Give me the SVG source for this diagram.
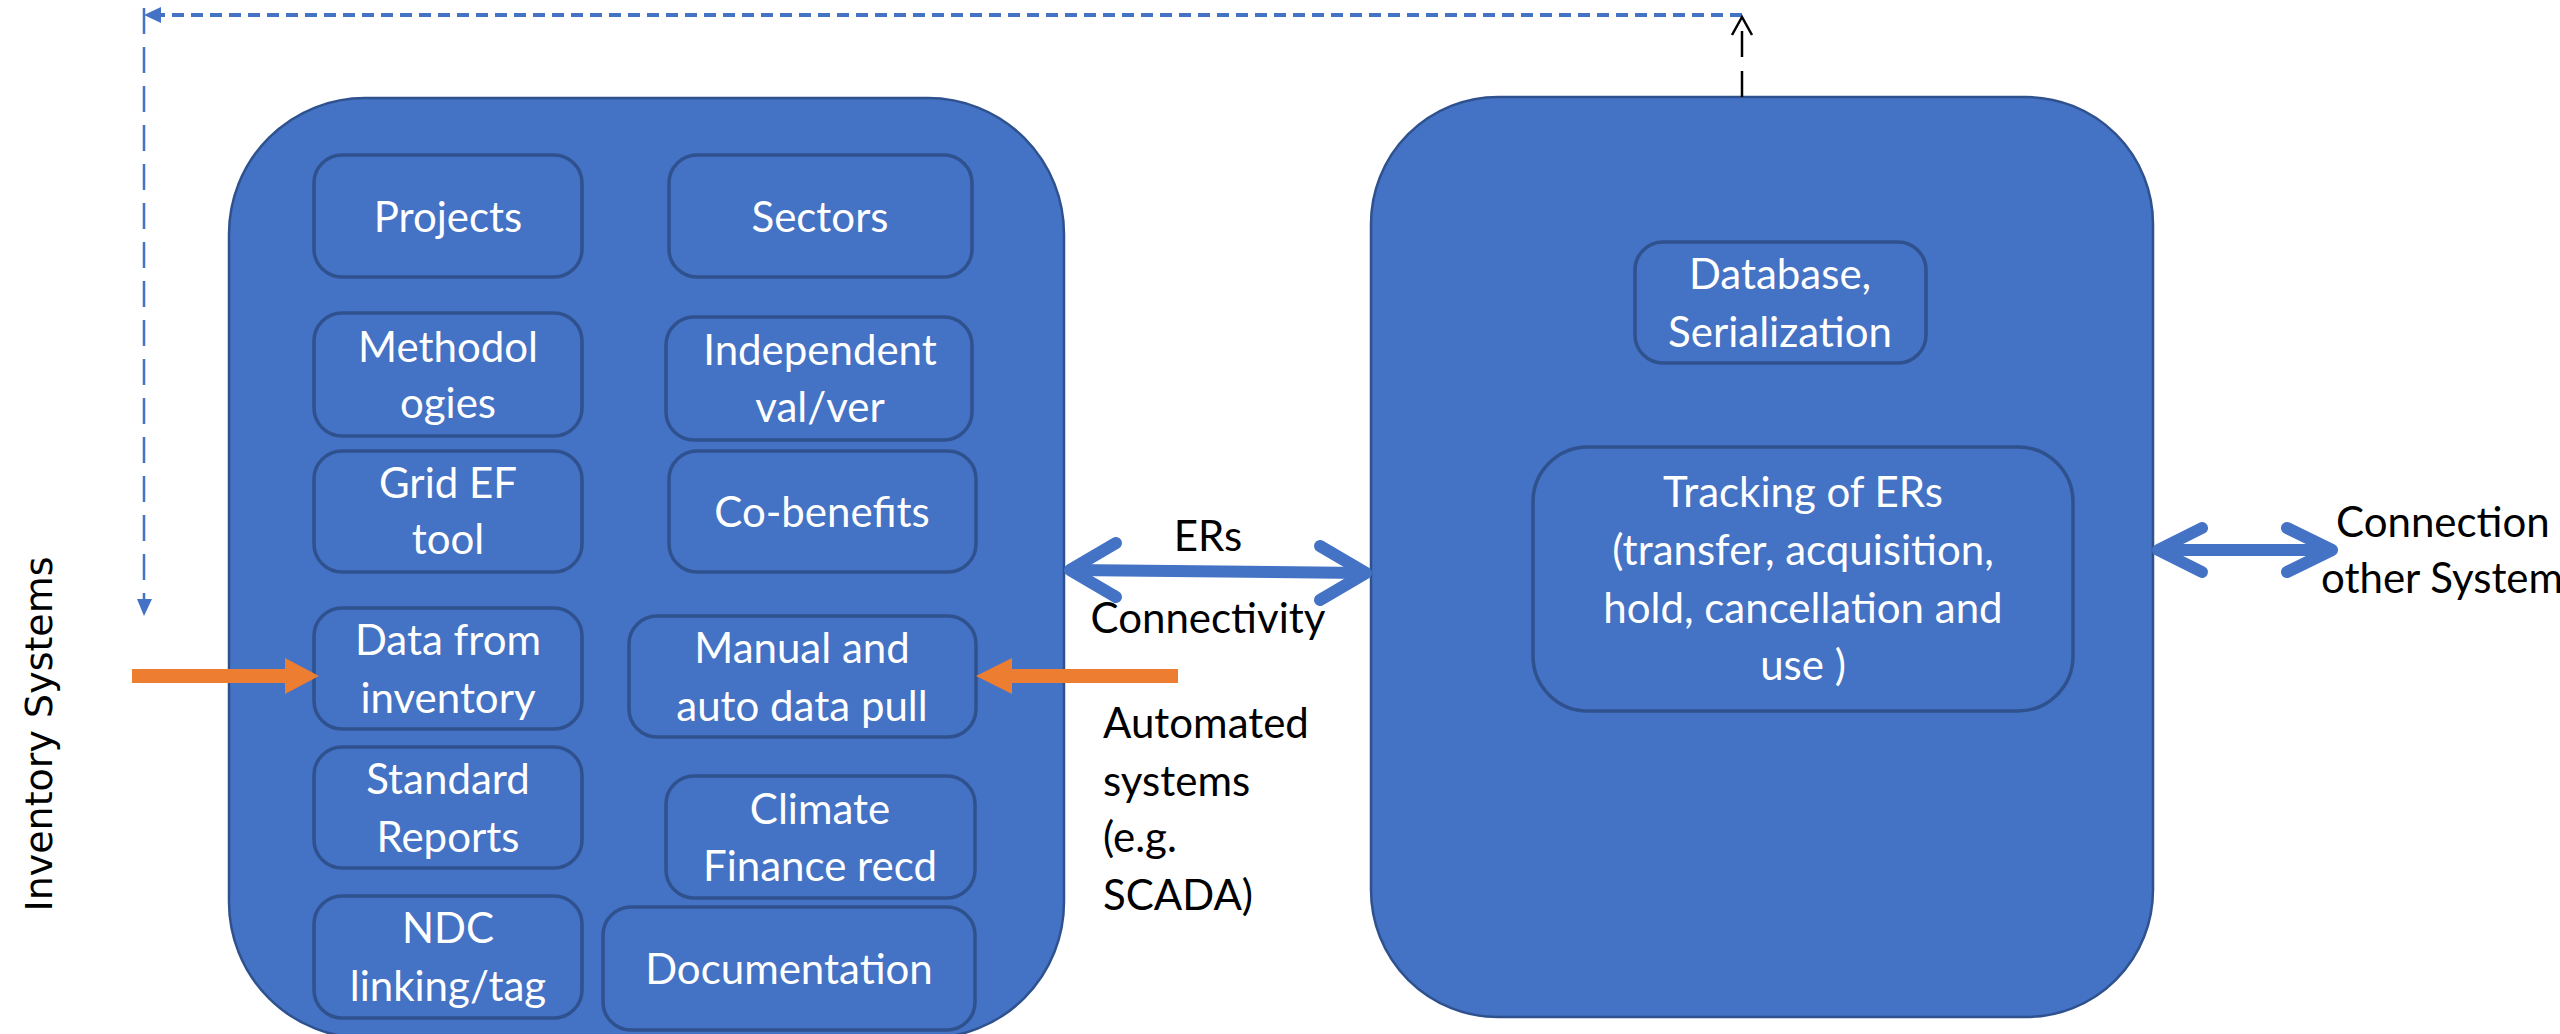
<svg xmlns="http://www.w3.org/2000/svg" width="2560" height="1034" viewBox="0 0 2560 1034">
<defs>
<style>
.panel{fill:#4472C4;stroke:#2F528F;stroke-width:2.5}
.box{fill:#4472C4;stroke:#2F528F;stroke-width:3.5}
.wt{font-family:Lato,"Liberation Sans",sans-serif;font-size:42px;fill:#FFFFFF;text-anchor:middle}
.bt{font-family:Lato,"Liberation Sans",sans-serif;font-size:42px;fill:#000000}
.inv{font-family:"DejaVu Sans",sans-serif;font-size:38px;fill:#000000;text-anchor:middle}
.blueArrow{fill:none;stroke:#4472C4;stroke-width:12;stroke-linecap:round;stroke-linejoin:round}
.orange{fill:#ED7D31}
</style>
</defs>
<rect width="2560" height="1034" fill="#FFFFFF"/>

<g id="left-panel">
  <rect class="panel" x="229" y="98" width="835" height="940" rx="136" ry="136"/>
</g>
<g id="right-panel">
  <rect class="panel" x="1371" y="97" width="782" height="920" rx="127" ry="127"/>
</g>

<g id="projects"><rect class="box" x="314" y="155" width="268" height="122" rx="28"/><text class="wt" x="448" y="232">Projects</text></g>
<g id="sectors"><rect class="box" x="669" y="155" width="303" height="122" rx="28"/><text class="wt" x="820" y="232">Sectors</text></g>
<g id="methodologies"><rect class="box" x="314" y="313" width="268" height="123" rx="28"/><text class="wt" x="448" y="362">Methodol</text><text class="wt" x="448" y="418">ogies</text></g>
<g id="independent"><rect class="box" x="666" y="317" width="306" height="123" rx="28"/><text class="wt" x="820" y="365">Independent</text><text class="wt" x="820" y="422">val/ver</text></g>
<g id="grid-ef"><rect class="box" x="314" y="451" width="268" height="121" rx="28"/><text class="wt" x="448" y="498">Grid EF</text><text class="wt" x="448" y="554">tool</text></g>
<g id="co-benefits"><rect class="box" x="669" y="451" width="307" height="121" rx="28"/><text class="wt" x="822" y="527">Co-benefits</text></g>
<g id="data-inventory"><rect class="box" x="314" y="608" width="268" height="121" rx="28"/><text class="wt" x="448" y="655">Data from</text><text class="wt" x="448" y="713">inventory</text></g>
<g id="manual-auto"><rect class="box" x="629" y="616" width="347" height="121" rx="28"/><text class="wt" x="802" y="663">Manual and</text><text class="wt" x="802" y="721">auto data pull</text></g>
<g id="standard-reports"><rect class="box" x="314" y="747" width="268" height="121" rx="28"/><text class="wt" x="448" y="794">Standard</text><text class="wt" x="448" y="852">Reports</text></g>
<g id="climate-finance"><rect class="box" x="666" y="776" width="309" height="122" rx="28"/><text class="wt" x="820" y="824">Climate</text><text class="wt" x="820" y="881">Finance recd</text></g>
<g id="ndc"><rect class="box" x="314" y="896" width="268" height="122" rx="28"/><text class="wt" x="448" y="943">NDC</text><text class="wt" x="448" y="1001">linking/tag</text></g>
<g id="documentation"><rect class="box" x="603" y="907" width="372" height="123" rx="28"/><text class="wt" x="789" y="984">Documentation</text></g>

<g id="database"><rect class="box" x="1635" y="242" width="291" height="121" rx="28"/><text class="wt" x="1780" y="289">Database,</text><text class="wt" x="1780" y="347">Serialization</text></g>
<g id="tracking"><rect class="box" x="1533" y="447" width="540" height="264" rx="55"/><text class="wt" x="1803" y="507">Tracking of ERs</text><text class="wt" x="1803" y="565">(transfer, acquisition,</text><text class="wt" x="1803" y="623">hold, cancellation and</text><text class="wt" x="1803" y="680">use )</text></g>

<g id="connectors">
  <path d="M1742,15 L150,15" fill="none" stroke="#4472C4" stroke-width="4" stroke-dasharray="12,7"/>
  <path d="M144,8 L144,605" fill="none" stroke="#4472C4" stroke-width="2.5" stroke-dasharray="26,13"/>
  <path d="M144,15 L161,7 L161,23 Z" fill="#4472C4"/>
  <path d="M144,616 L137,599 L152,599 Z" fill="#4472C4"/>
  <path d="M1742,97 L1742,20" fill="none" stroke="#000000" stroke-width="2.5" stroke-dasharray="26,14"/>
  <path d="M1732,35 L1742,17 L1752,35" fill="none" stroke="#000000" stroke-width="2.5"/>
  <g id="er-arrow">
    <path class="blueArrow" d="M1072,570 L1364,573"/>
    <path class="blueArrow" d="M1116,543 L1070,570 L1116,597"/>
    <path class="blueArrow" d="M1320,546 L1366,573 L1320,600"/>
  </g>
  <g id="conn-arrow">
    <path class="blueArrow" d="M2160,550 L2330,550"/>
    <path class="blueArrow" d="M2202,528 L2158,550 L2202,572"/>
    <path class="blueArrow" d="M2287,528 L2332,550 L2287,572"/>
  </g>
  <path class="orange" d="M132,669 L285,669 L285,658 L319,676 L285,694 L285,683 L132,683 Z"/>
  <path class="orange" d="M1178,669 L1012,669 L1012,658 L976,676 L1012,694 L1012,683 L1178,683 Z"/>
</g>

<g id="labels">
  <text class="bt" x="1208" y="551" text-anchor="middle">ERs</text>
  <text class="bt" x="1208" y="633" text-anchor="middle">Connectivity</text>
  <text class="bt" x="1103" y="738">Automated</text>
  <text class="bt" x="1103" y="796">systems</text>
  <text class="bt" x="1103" y="852">(e.g.</text>
  <text class="bt" x="1103" y="910">SCADA)</text>
  <text class="bt" x="2336" y="537">Connection</text>
  <text class="bt" x="2321" y="593">other Systems</text>
  <text class="inv" transform="translate(52,734) rotate(-90)">Inventory Systems</text>
</g>
</svg>
